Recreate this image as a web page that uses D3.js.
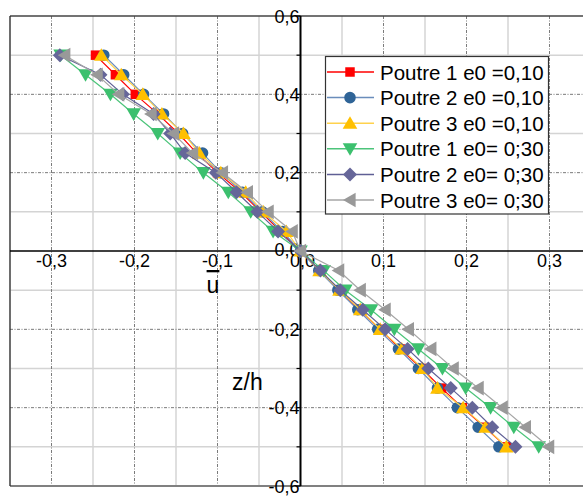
<!DOCTYPE html>
<html>
<head>
<meta charset="utf-8">
<script src="https://cdn.jsdelivr.net/npm/d3@7/dist/d3.min.js"></script>
<style>
  html, body { margin: 0; padding: 0; background: #fff; }
  svg { display: block; font-family: "Liberation Sans", Arial, sans-serif; }
</style>
</head>
<body>
<svg id="chart" width="583" height="496"></svg>
<script>
// ---- data ----
const zLevels = [0.5, 0.45, 0.4, 0.35, 0.3, 0.25, 0.2, 0.15, 0.1, 0.05, 0,
                 -0.05, -0.1, -0.15, -0.2, -0.25, -0.3, -0.35, -0.4, -0.45, -0.5];
const seriesNames = ["Poutre 1 e0 =0,10", "Poutre 2 e0 =0,10", "Poutre 3 e0 =0,10",
                     "Poutre 1 e0= 0;30", "Poutre 2 e0= 0;30", "Poutre 3 e0= 0;30"];
const p1_e010 = [-0.247,-0.223,-0.199,-0.172,-0.147,-0.125,-0.100,-0.072,-0.048,-0.024,0,
                 0.023,0.047,0.071,0.096,0.120,0.146,0.170,0.195,0.222,0.248];
const p2_e010 = [-0.237,-0.213,-0.189,-0.165,-0.142,-0.118,-0.096,-0.070,-0.046,-0.022,0,
                 0.022,0.045,0.069,0.093,0.118,0.142,0.165,0.189,0.214,0.239];
const p3_e010 = [-0.240,-0.216,-0.190,-0.167,-0.141,-0.122,-0.096,-0.066,-0.045,-0.017,0,
                 0.023,0.047,0.072,0.096,0.122,0.147,0.165,0.196,0.223,0.248];
const p1_e030 = [-0.289,-0.259,-0.229,-0.201,-0.172,-0.145,-0.117,-0.087,-0.060,-0.033,0,
                 0.028,0.054,0.085,0.113,0.142,0.171,0.199,0.229,0.257,0.287];
const p2_e030 = [-0.290,-0.241,-0.214,-0.177,-0.157,-0.139,-0.102,-0.077,-0.052,-0.027,0,
                 0.024,0.048,0.075,0.102,0.129,0.154,0.181,0.207,0.231,0.259];
const p3_e030 = [-0.284,-0.245,-0.219,-0.180,-0.153,-0.130,-0.094,-0.064,-0.039,-0.010,0,
                 0.046,0.072,0.102,0.130,0.157,0.184,0.214,0.243,0.271,0.299];
const xTickValues = [-0.3, -0.2, -0.1, 0, 0.1, 0.2, 0.3];
const xTickLabels = ["-0,3", "-0,2", "-0,1", "0,0", "0,1", "0,2", "0,3"];
const yTickValues = [0.6, 0.4, 0.2, 0, -0.2, -0.4, -0.6];
const yTickLabels = ["0,6", "0,4", "0,2", "0,0", "-0,2", "-0,4", "-0,6"];
const xTitle = "u";
const yTitle = "z/h";

// ---- styles ----
const markerColors = ["#ff0000", "#2f6497", "#ffc000", "#3cc06e", "#666699", "#999999"];
const lineColors   = ["#ff0000", "#6a8dbb", "#ffd24d", "#4cc47a", "#5f5f95", "#a6a6a6"];
const markerTypes  = ["square", "circle", "triUp", "triDown", "diamond", "triLeft"];
const allValues = [p1_e010, p2_e010, p3_e010, p1_e030, p2_e030, p3_e030];

(function () {
const svg = d3.select("#chart");
const pL = 10, pR = 591, pT = 16, pB = 486;
const x = d3.scaleLinear().domain([-0.35, 0.35]).range([pL, pR]);
const y = d3.scaleLinear().domain([-0.6, 0.6]).range([pB, pT]);

// grid
const g = svg.append("g");
const minorX = [-0.35, -0.25, -0.15, -0.05, 0.05, 0.15, 0.25, 0.35];
const majorX = [-0.3, -0.2, -0.1, 0.1, 0.2, 0.3];
const minorY = [0.5, 0.3, 0.1, -0.1, -0.3, -0.5];
const majorY = [0.4, 0.2, -0.2, -0.4];
g.selectAll(".mx").data(minorX).join("line")
  .attr("x1", d => x(d)).attr("x2", d => x(d)).attr("y1", pT).attr("y2", pB)
  .attr("stroke", "#d4d4d4").attr("stroke-width", 1.5);
g.selectAll(".my").data(minorY).join("line")
  .attr("x1", pL).attr("x2", 583).attr("y1", d => y(d)).attr("y2", d => y(d))
  .attr("stroke", "#d4d4d4").attr("stroke-width", 1.5);
g.selectAll(".Mx").data(majorX).join("line")
  .attr("x1", d => x(d)).attr("x2", d => x(d)).attr("y1", pT).attr("y2", pB)
  .attr("stroke", "#7a7a7a").attr("stroke-width", 1).attr("stroke-dasharray", "3,1.5,1,1.5");
g.selectAll(".My").data(majorY).join("line")
  .attr("x1", pL).attr("x2", 583).attr("y1", d => y(d)).attr("y2", d => y(d))
  .attr("stroke", "#7a7a7a").attr("stroke-width", 1).attr("stroke-dasharray", "3,1.5,1,1.5");

// border
svg.append("line").attr("x1", pL).attr("x2", 583).attr("y1", pT).attr("y2", pT)
  .attr("stroke", "#444").attr("stroke-width", 1.5);
svg.append("line").attr("x1", pL).attr("x2", 583).attr("y1", pB).attr("y2", pB)
  .attr("stroke", "#808080").attr("stroke-width", 2);
svg.append("line").attr("x1", pL).attr("x2", pL).attr("y1", pT).attr("y2", pB)
  .attr("stroke", "#222").attr("stroke-width", 1.2);

// axes through origin
const x0 = x(0), y0 = y(0);
svg.append("line").attr("x1", pL).attr("x2", 583).attr("y1", y0).attr("y2", y0)
  .attr("stroke", "#000").attr("stroke-width", 1.6);
svg.append("line").attr("x1", x0).attr("x2", x0).attr("y1", pT).attr("y2", pB)
  .attr("stroke", "#000").attr("stroke-width", 2);
svg.selectAll(".yt").data(d3.range(-6, 7).map(v => v / 10)).join("line")
  .attr("x1", x0 - 4).attr("x2", x0).attr("y1", d => y(d)).attr("y2", d => y(d))
  .attr("stroke", "#000").attr("stroke-width", 1.2);

// tick labels
svg.selectAll(".xl").data(xTickValues).join("text")
  .attr("x", (d) => x(d) + (d === 0 ? 2 : 0)).attr("y", y0 + 16)
  .attr("text-anchor", "middle").attr("font-size", 18).attr("fill", "#000")
  .text((d, i) => xTickLabels[i]);
svg.selectAll(".yl").data(yTickValues).join("text")
  .attr("x", x0 - 1).attr("y", d => y(d) + (d === 0 ? 5 : 6.5))
  .attr("text-anchor", "end").attr("font-size", 18).attr("fill", "#000")
  .text((d, i) => yTickLabels[i]);

// axis titles
svg.append("text").attr("x", 213).attr("y", 293).attr("text-anchor", "middle")
  .attr("font-size", 23).style("text-decoration", "overline").text(xTitle);
svg.append("text").attr("x", 232).attr("y", 390).attr("text-anchor", "start")
  .attr("font-size", 23).text(yTitle);

function markerPath(type) {
  switch (type) {
    case "square": return d3.symbol(d3.symbolSquare, 90)();
    case "circle": return d3.symbol(d3.symbolCircle, 105)();
    case "diamond": return "M0,-7L7,0L0,7L-7,0Z";
    case "triUp": return "M0,-7L7.3,5.6L-7.3,5.6Z";
    case "triDown": return "M0,7L7.3,-5.6L-7.3,-5.6Z";
    case "triLeft": return "M-7,0L5.6,-7.3L5.6,7.3Z";
  }
}

const line = d3.line().x(d => x(d[0])).y(d => y(d[1]));
allValues.forEach((vals, si) => {
  const pts = vals.map((u, i) => [u, zLevels[i]]);
  const sg = svg.append("g");
  sg.append("path").attr("d", line(pts)).attr("fill", "none")
    .attr("stroke", lineColors[si]).attr("stroke-width", 1.2);
  sg.selectAll("path.m").data(pts).join("path").attr("class", "m")
    .attr("transform", d => `translate(${x(d[0])},${y(d[1])})`)
    .attr("d", markerPath(markerTypes[si]))
    .attr("fill", markerColors[si]);
});

// legend
const lg = svg.append("g");
lg.append("rect").attr("x", 325.5).attr("y", 56.5).attr("width", 223).attr("height", 157.5)
  .attr("fill", "#fff").attr("stroke", "#333").attr("stroke-width", 1.2);
seriesNames.forEach((name, i) => {
  const cy = 72 + i * 25.6;
  lg.append("line").attr("x1", 327).attr("x2", 374).attr("y1", cy).attr("y2", cy)
    .attr("stroke", lineColors[i]).attr("stroke-width", 1.5);
  lg.append("path").attr("transform", `translate(350,${cy})`)
    .attr("d", markerPath(markerTypes[i])).attr("fill", markerColors[i]);
  lg.append("text").attr("x", 380).attr("y", cy + 7.5).attr("font-size", 20.5)
    .attr("fill", "#000").text(name);
});
})();
</script>
</body>
</html>
